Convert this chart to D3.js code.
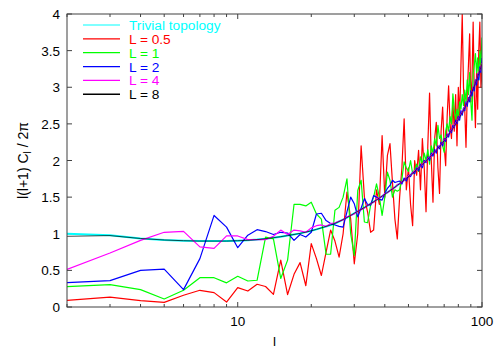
<!DOCTYPE html>
<html><head><meta charset="utf-8">
<script src="https://cdn.jsdelivr.net/npm/d3@7/dist/d3.min.js"></script>
<style>body{margin:0;background:#fff;} svg{display:block;font-family:"Liberation Sans",Arial,sans-serif;}</style>
</head><body>
<svg id="c" width="499" height="349"></svg>
<script>
const ells = d3.range(2, 101);
const trivial = [1.0,0.98,0.935,0.915,0.905,0.9,0.9,0.9,0.905,0.91,0.92,0.933,0.946,0.96,0.975,0.99,1.005,1.022,1.04,1.06,1.08,1.10,1.12,1.14,1.167,1.194,1.221,1.25,1.28,1.306,1.332,1.358,1.384,1.41,1.436,1.462,1.488,1.514,1.54,1.564,1.588,1.612,1.636,1.66,1.684,1.708,1.732,1.756,1.78,1.804,1.828,1.852,1.876,1.90,1.924,1.948,1.972,1.996,2.02,2.044,2.068,2.092,2.116,2.14,2.166,2.192,2.218,2.244,2.27,2.298,2.326,2.354,2.382,2.41,2.44,2.47,2.50,2.53,2.56,2.592,2.624,2.656,2.688,2.72,2.756,2.792,2.828,2.864,2.90,2.94,2.98,3.02,3.06,3.10,3.144,3.188,3.232,3.276,3.32];
const L8 = [0.965,0.975,0.935,0.915,0.905,0.9,0.9,0.9,0.905,0.91,0.92,0.933,0.946,0.96,0.975,0.99,1.005,1.022,1.04,1.06,1.08,1.10,1.12,1.14,1.167,1.194,1.221,1.25,1.28,1.306,1.332,1.358,1.384,1.41,1.436,1.462,1.488,1.514,1.54,1.564,1.588,1.612,1.636,1.66,1.684,1.708,1.732,1.756,1.78,1.804,1.828,1.852,1.876,1.90,1.924,1.948,1.972,1.996,2.02,2.044,2.068,2.092,2.116,2.14,2.166,2.192,2.218,2.244,2.27,2.298,2.326,2.354,2.382,2.41,2.44,2.47,2.50,2.53,2.56,2.592,2.624,2.656,2.688,2.72,2.756,2.792,2.828,2.864,2.90,2.94,2.98,3.02,3.06,3.10,3.144,3.188,3.232,3.276,3.32];
const L05 = [0.091,0.136,0.087,0.064,0.16,0.228,0.196,0.068,0.265,0.218,0.31,0.28,0.173,0.64,0.17,0.446,0.606,0.29,0.865,0.66,0.43,0.75,1.05,0.9,0.68,1.0,1.57,1.2,0.59,1.0,2.2,1.5,1.3,1.02,1.05,1.6,1.4,2.34,1.5,2.07,2.23,1.7,1.2,0.93,1.5,1.9,2.57,1.6,1.9,1.4,1.11,2.0,1.8,2.14,1.6,2.3,1.9,1.30,2.2,2.92,2.0,1.43,2.3,2.52,1.9,1.55,2.4,2.73,2.2,1.93,2.6,3.02,2.5,2.3,2.8,2.4,2.9,2.2,3.0,2.6,3.3,4.0,3.0,2.7,2.18,2.9,3.3,3.73,2.8,3.1,3.89,2.9,2.45,3.2,2.7,3.5,3.89,3.0,3.2];
const L1 = [0.278,0.305,0.237,0.109,0.228,0.40,0.40,0.33,0.42,0.355,0.365,0.955,0.93,0.39,0.64,1.40,1.40,1.38,1.43,1.27,1.2,0.72,0.72,1.32,1.36,1.5,1.75,1.0,0.705,1.59,1.73,1.16,1.15,1.39,1.5,1.68,1.5,1.25,1.5,1.84,1.73,1.5,1.6,1.58,1.6,1.75,1.98,1.9,1.85,2.0,1.82,1.87,1.95,1.85,2.05,1.95,2.1,2.0,2.15,1.95,2.2,2.1,2.3,2.2,2.48,2.3,2.35,2.2,2.11,2.4,2.5,2.4,2.6,2.5,2.91,2.7,2.55,2.7,2.6,2.8,2.7,2.9,2.75,2.96,2.8,3.1,2.9,3.2,2.8,2.55,3.2,3.3,3.46,3.2,3.4,3.1,3.5,3.3,3.68];
const L2 = [0.333,0.36,0.50,0.518,0.237,0.66,1.25,1.09,0.81,0.98,1.056,1.03,0.99,1.02,1.01,0.91,0.99,0.955,1.02,1.27,1.28,1.18,1.14,1.12,1.10,1.09,1.3,1.50,1.41,1.23,1.35,1.48,1.40,1.39,1.52,1.50,1.47,1.46,1.55,1.62,1.66,1.73,1.70,1.71,1.72,1.68,1.76,1.72,1.80,1.78,1.84,1.82,1.90,1.86,1.95,1.90,2.0,1.97,2.05,2.0,2.10,2.06,2.15,2.10,2.2,2.16,2.25,2.2,2.3,2.26,2.36,2.32,2.42,2.38,2.48,2.45,2.55,2.5,2.6,2.55,2.68,2.62,2.72,2.68,2.8,2.74,2.86,2.8,2.95,2.88,3.0,2.95,3.1,3.03,3.18,3.1,3.28,3.2,3.4];
const L4 = [0.514,0.737,0.91,1.02,1.033,0.82,0.80,0.97,0.97,0.92,0.92,0.92,0.965,1.05,0.99,1.05,1.04,1.02,1.08,1.11,1.12,1.10,1.14,1.15,1.17,1.19,1.23,1.25,1.27,1.31,1.33,1.35,1.39,1.41,1.43,1.47,1.49,1.51,1.55,1.56,1.59,1.62,1.63,1.67,1.68,1.71,1.73,1.76,1.79,1.80,1.83,1.86,1.87,1.91,1.92,1.95,1.98,1.99,2.03,2.04,2.07,2.10,2.11,2.15,2.16,2.2,2.22,2.24,2.28,2.29,2.33,2.36,2.38,2.42,2.44,2.47,2.51,2.53,2.57,2.59,2.63,2.66,2.69,2.73,2.75,2.8,2.83,2.86,2.91,2.94,2.99,3.03,3.06,3.11,3.14,3.2,3.23,3.28,3.33];
const seriesNames = ["Trivial topology","L = 0.5","L = 1","L = 2","L = 4","L = 8"];
const seriesColors = ["#00ffff","#ff0000","#00ff00","#0000ff","#ff00ff","#000000"];
const seriesData = [trivial, L05, L1, L2, L4, L8];
const yTicks = [0,0.5,1,1.5,2,2.5,3,3.5,4];
const xMajor = [10,100];
const xMinor = [2,3,4,5,6,7,8,9,20,30,40,50,60,70,80,90];

const W=499,H=349, m={l:67,r:17,t:14,b:42};
const svg=d3.select("#c");
const x=d3.scaleLog().domain([2,100]).range([m.l,W-m.r]);
const y=d3.scaleLinear().domain([0,4]).range([H-m.b,m.t]);
const axCol="#404040";
const g=svg.append("g");
g.append("clipPath").attr("id","clip").append("rect").attr("x",m.l).attr("y",m.t).attr("width",W-m.r-m.l).attr("height",H-m.b-m.t);

yTicks.forEach(v=>{
  g.append("line").attr("x1",m.l).attr("x2",m.l+5).attr("y1",y(v)).attr("y2",y(v)).attr("stroke",axCol);
  g.append("line").attr("x1",W-m.r).attr("x2",W-m.r-5).attr("y1",y(v)).attr("y2",y(v)).attr("stroke",axCol);
  g.append("text").attr("x",m.l-7).attr("y",y(v)+5).attr("text-anchor","end").attr("font-size",13.5).attr("fill","#000").text(v);
});
xMinor.forEach(v=>{
  g.append("line").attr("x1",x(v)).attr("x2",x(v)).attr("y1",H-m.b).attr("y2",H-m.b-3).attr("stroke",axCol);
  g.append("line").attr("x1",x(v)).attr("x2",x(v)).attr("y1",m.t).attr("y2",m.t+3).attr("stroke",axCol);
});
xMajor.forEach(v=>{
  g.append("line").attr("x1",x(v)).attr("x2",x(v)).attr("y1",H-m.b).attr("y2",H-m.b-5).attr("stroke",axCol);
  g.append("line").attr("x1",x(v)).attr("x2",x(v)).attr("y1",m.t).attr("y2",m.t+5).attr("stroke",axCol);
  g.append("text").attr("x",x(v)).attr("y",H-m.b+18.5).attr("text-anchor","middle").attr("font-size",13.5).attr("fill","#000").text(v);
});

const line=d3.line().x((d,i)=>x(ells[i])).y(d=>y(d));
const plot=g.append("g").attr("clip-path","url(#clip)");
const widths=[2,1.2,1.2,1.2,1.2,1];
const opac=[1,1,1,1,1,0.7];
seriesData.forEach((s,k)=>{
  plot.append("path").datum(s).attr("d",line).attr("fill","none").attr("stroke",seriesColors[k]).attr("stroke-width",widths[k]).attr("stroke-opacity",opac[k]).attr("stroke-linejoin","round");
});

seriesNames.forEach((n,k)=>{
  const yy=25+k*13.85;
  g.append("line").attr("x1",83).attr("x2",120).attr("y1",yy).attr("y2",yy).attr("stroke",seriesColors[k]).attr("stroke-width",k==0?1:1.3);
  g.append("text").attr("x",129).attr("y",yy+5).attr("font-size",13.7).attr("fill",seriesColors[k]).text(n);
});

g.append("rect").attr("x",m.l).attr("y",m.t).attr("width",W-m.r-m.l).attr("height",H-m.b-m.t).attr("fill","none").attr("stroke",axCol);

g.append("text").attr("x",(m.l+W-m.r)/2).attr("y",346).attr("text-anchor","middle").attr("font-size",13.5).text("l");
const yl=g.append("text").attr("transform",`translate(28,${(m.t+H-m.b)/2}) rotate(-90)`).attr("text-anchor","middle").attr("font-size",14);
yl.append("tspan").text("l(l+1) C");
yl.append("tspan").attr("font-size",10).attr("dy",3).text("l");
yl.append("tspan").attr("dy",-3).text(" / 2π");
</script>
</body></html>
